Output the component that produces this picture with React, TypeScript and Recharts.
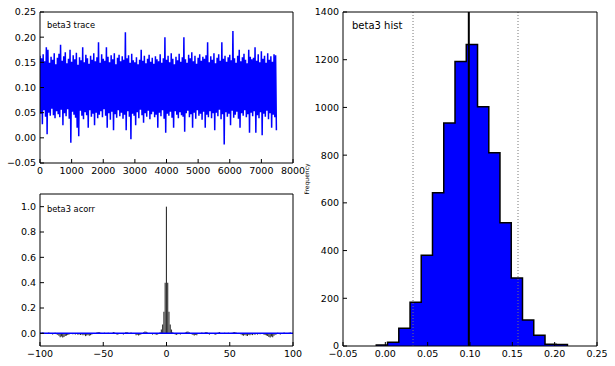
import React from 'react';
import { LineChart, Line, XAxis, YAxis, ComposedChart, Bar, Area, ReferenceLine } from 'recharts';

// ---- trace panel (beta3 trace): local peaks / troughs, one pair per ~50 iterations
const traceHigh = [
  0.163, 0.158, 0.166, 0.152, 0.180, 0.175, 0.149, 0.161, 0.155, 0.168, 0.146, 0.159, 0.167, 0.185, 0.153,
  0.162, 0.170, 0.148, 0.157, 0.175, 0.151, 0.164, 0.156, 0.169, 0.145, 0.160, 0.154, 0.180, 0.150, 0.165,
  0.158, 0.147, 0.163, 0.155, 0.168, 0.152, 0.160, 0.190, 0.149, 0.166, 0.157, 0.153, 0.180, 0.161, 0.150,
  0.164, 0.156, 0.168, 0.146, 0.159, 0.165, 0.152, 0.162, 0.155, 0.210, 0.158, 0.164, 0.149, 0.167, 0.154,
  0.150, 0.160, 0.146, 0.155, 0.175, 0.153, 0.163, 0.148, 0.157, 0.165, 0.151, 0.159, 0.147, 0.162, 0.156,
  0.152, 0.166, 0.149, 0.158, 0.200, 0.155, 0.163, 0.150, 0.168, 0.157, 0.146, 0.161, 0.154, 0.167, 0.151,
  0.160, 0.200, 0.156, 0.149, 0.165, 0.158, 0.170, 0.152, 0.163, 0.147, 0.159, 0.166, 0.153, 0.161, 0.157,
  0.164, 0.190, 0.150, 0.162, 0.155, 0.168, 0.148, 0.159, 0.166, 0.153, 0.190, 0.157, 0.163, 0.151, 0.160,
  0.165, 0.154, 0.212, 0.158, 0.149, 0.163, 0.175, 0.152, 0.160, 0.167, 0.155, 0.148, 0.175, 0.161, 0.156,
  0.159, 0.180, 0.153, 0.166, 0.150, 0.172, 0.157, 0.163, 0.149, 0.168, 0.155, 0.162, 0.151, 0.166, 0.164,
];
const traceLow = [
  0.048, 0.027, 0.055, 0.042, 0.007, 0.050, 0.044, 0.058, 0.045, 0.039, 0.053, 0.047, 0.041, 0.056, 0.025,
  0.049, 0.043, 0.057, 0.038, -0.010, 0.052, 0.046, 0.040, 0.020, 0.003, 0.054, 0.044, 0.037, 0.051, 0.045,
  0.020, 0.055, 0.042, 0.048, 0.025, 0.050, 0.039, 0.046, 0.053, 0.041, 0.057, 0.044, 0.020, 0.049, 0.036,
  0.052, 0.015, 0.047, 0.040, 0.055, 0.043, 0.050, 0.038, 0.046, 0.015, 0.053, 0.042, -0.003, 0.048, 0.044,
  0.025, 0.051, 0.039, 0.056, 0.045, 0.030, 0.049, 0.042, 0.054, 0.037, 0.047, 0.052, 0.041, 0.046, 0.020,
  0.050, 0.043, 0.055, 0.038, 0.010, 0.048, 0.044, 0.052, 0.040, 0.020, 0.053, 0.046, 0.039, 0.051, 0.045,
  0.042, 0.012, 0.049, 0.054, 0.041, 0.047, 0.020, 0.050, 0.038, 0.055, 0.044, 0.048, 0.036, 0.052, 0.020,
  0.046, 0.041, 0.053, 0.039, 0.049, 0.015, 0.050, 0.043, 0.056, 0.037, 0.047, -0.013, 0.051, 0.042, 0.048,
  0.025, 0.054, 0.040, 0.046, 0.052, 0.038, 0.020, 0.049, 0.044, 0.055, 0.041, 0.047, 0.010, 0.050, 0.043,
  0.053, 0.010, 0.045, 0.039, 0.051, 0.005, 0.048, 0.042, 0.054, 0.037, 0.049, 0.020, 0.046, 0.041, 0.015,
];
const traceXTicks = [0, 1000, 2000, 3000, 4000, 5000, 6000, 7000, 8000];
const traceYTicks = [-0.05, 0, 0.05, 0.1, 0.15, 0.2, 0.25];

// ---- autocorrelation panel (beta3 acorr): lags 0..100, mirrored for negative lags
const acorrPos = [
  1.0, 0.40, 0.17, 0.07, 0.03, 0.008, -0.006, -0.010, -0.012, -0.008,
  -0.004, -0.010, -0.006, 0.002, -0.003, 0.006, 0.012, 0.015, 0.008, -0.002,
  -0.008, -0.014, -0.018, -0.012, -0.016, -0.006, 0.002, -0.004, 0.006, -0.002,
  0.004, 0.008, 0.010, -0.004, -0.010, -0.006, 0.002, -0.005, -0.008, -0.012,
  -0.004, 0.006, 0.010, 0.003, -0.006, 0.002, 0.004, -0.004, 0.000, 0.005,
  0.002, -0.005, 0.004, 0.008, 0.010, 0.006, -0.002, 0.003, -0.004, -0.010,
  -0.015, -0.020, -0.014, -0.018, -0.022, -0.012, -0.016, -0.010, -0.014, -0.008,
  -0.012, -0.006, -0.010, -0.004, -0.008, 0.002, -0.006, -0.010, -0.014, -0.018,
  -0.022, -0.028, -0.032, -0.025, -0.030, -0.020, -0.012, -0.008, 0.004, -0.006,
  -0.010, -0.004, 0.002, 0.006, 0.003, -0.004, -0.002, 0.004, 0.006, 0.002,
  0.000,
];
const acorrXTicks = [-100, -50, 0, 50, 100];
const acorrYTicks = [0, 0.2, 0.4, 0.6, 0.8, 1.0];

// ---- histogram panel (beta3 hist)
const histEdges = [
  -0.0107, 0.0026, 0.0159, 0.0292, 0.0424, 0.0557, 0.069, 0.0823, 0.0956,
  0.1089, 0.1222, 0.1354, 0.1487, 0.162, 0.1753, 0.1886, 0.2019, 0.2151,
];
const histCounts = [4, 16, 74, 183, 380, 642, 935, 1192, 1264, 1003, 810, 517, 285, 109, 45, 7, 6];
const histMean = 0.0986;
const histHpd = [0.0327, 0.1567];
const histXTicks = [-0.05, 0, 0.05, 0.1, 0.15, 0.2, 0.25];
const histYTicks = [0, 200, 400, 600, 800, 1000, 1200, 1400];

// ---- tables built from the arrays
const traceData = traceHigh.flatMap((h, i) => [
  { it: i * 50, v: h },
  { it: i * 50 + 25, v: traceLow[i] },
]);
const acorrData: { lag: number; r: number }[] = [];
for (let lag = -100; lag <= 100; lag++) acorrData.push({ lag, r: acorrPos[Math.abs(lag)] });
const histData: { x: number; n: number }[] = [{ x: histEdges[0], n: 0 }];
histCounts.forEach((c, i) => histData.push({ x: histEdges[i], n: c }));
histData.push({ x: histEdges[histEdges.length - 1], n: 0 });

const fmt = (d: number) => (v: number) => (v < 0 ? '\u2212' : '') + Math.abs(v).toFixed(d);

const FONT = '"DejaVu Sans", sans-serif';
const tickStyle = { fontSize: 9.5, fill: '#000', fontFamily: FONT };
const common = {
  stroke: '#000',
  tickSize: -4,
  tickMargin: 8,
  axisLine: { stroke: '#000' },
  tickLine: { stroke: '#000' },
  interval: 0 as const,
  allowDataOverflow: true,
  type: 'number' as const,
};

const label = (text: string, left: number, top: number, size: number) => (
  <div style={{ position: 'absolute', left, top, fontSize: size, lineHeight: 1, fontFamily: FONT, color: '#000', whiteSpace: 'nowrap' }}>
    {text}
  </div>
);

export default function App() {
  return (
    <div style={{ position: 'absolute', left: 0, top: 0, width: 615, height: 366, background: '#fff', fontFamily: FONT, overflow: 'hidden' }}>
      {/* trace */}
      <div style={{ position: 'absolute', left: 0, top: 0 }}>
        <LineChart width={312} height={185} data={traceData} margin={{ top: 11, right: 18, bottom: 0, left: 0 }}>
          <XAxis {...common} dataKey="it" domain={[0, 8000]} ticks={traceXTicks} tickFormatter={fmt(0)} tick={tickStyle} height={22} />
          <XAxis {...common} xAxisId="top" orientation="top" dataKey="it" domain={[0, 8000]} ticks={traceXTicks} tick={false} height={1} />
          <YAxis {...common} domain={[-0.05, 0.25]} ticks={traceYTicks} tickFormatter={fmt(2)} tick={tickStyle} width={40} />
          <YAxis {...common} yAxisId="right" orientation="right" domain={[-0.05, 0.25]} ticks={traceYTicks} tick={false} width={1} />
          <Line dataKey="v" stroke="#0000ff" strokeWidth={1.5} dot={false} isAnimationActive={false} type="linear" />
        </LineChart>
      </div>
      {/* acorr */}
      <div style={{ position: 'absolute', left: 0, top: 182 }}>
        <ComposedChart width={312} height={184} data={acorrData} margin={{ top: 11, right: 18, bottom: 0, left: 0 }}>
          <XAxis {...common} dataKey="lag" domain={[-100, 100]} ticks={acorrXTicks} tickFormatter={fmt(0)} tick={tickStyle} height={20} />
          <XAxis {...common} xAxisId="top" orientation="top" dataKey="lag" domain={[-100, 100]} ticks={acorrXTicks} tick={false} height={1} />
          <YAxis {...common} domain={[-0.1, 1.1]} ticks={acorrYTicks} tickFormatter={fmt(1)} tick={tickStyle} width={40} />
          <YAxis {...common} yAxisId="right" orientation="right" domain={[-0.1, 1.1]} ticks={acorrYTicks} tick={false} width={1} />
          <Bar dataKey="r" fill="#333" barSize={2} isAnimationActive={false} />
          <ReferenceLine y={0} stroke="#0000ff" strokeWidth={1.5} />
        </ComposedChart>
      </div>
      {/* hist */}
      <div style={{ position: 'absolute', left: 300, top: 0 }}>
        <ComposedChart width={315} height={366} data={histData} margin={{ top: 11, right: 17, bottom: 0, left: 0 }}>
          <XAxis {...common} dataKey="x" domain={[-0.05, 0.25]} ticks={histXTicks} tickFormatter={fmt(2)} tick={tickStyle} height={20} />
          <XAxis {...common} xAxisId="top" orientation="top" dataKey="x" domain={[-0.05, 0.25]} ticks={histXTicks} tick={false} height={1} />
          <YAxis {...common} domain={[0, 1400]} ticks={histYTicks} tickFormatter={fmt(0)} tick={tickStyle} width={43} />
          <YAxis {...common} yAxisId="right" orientation="right" domain={[0, 1400]} ticks={histYTicks} tick={false} width={1} />
          <Area dataKey="n" type="stepAfter" fill="#0000ff" fillOpacity={1} stroke="#000" strokeWidth={1.5} isAnimationActive={false} />
          <ReferenceLine x={histMean} stroke="#000" strokeWidth={2} />
          <ReferenceLine x={histHpd[0]} stroke="#777" strokeDasharray="1 2" />
          <ReferenceLine x={histHpd[1]} stroke="#777" strokeDasharray="1 2" />
        </ComposedChart>
      </div>
      {label('beta3 trace', 47, 20.5, 8.3)}
      {label('beta3 acorr', 47, 204.5, 8.3)}
      {label('beta3 hist', 352, 21, 10)}
      <div style={{ position: 'absolute', left: 307, top: 179, fontSize: 6, lineHeight: 1, fontFamily: FONT, whiteSpace: 'nowrap', transform: 'translate(-50%, -50%) rotate(-90deg)' }}>
        Frequency
      </div>
    </div>
  );
}
